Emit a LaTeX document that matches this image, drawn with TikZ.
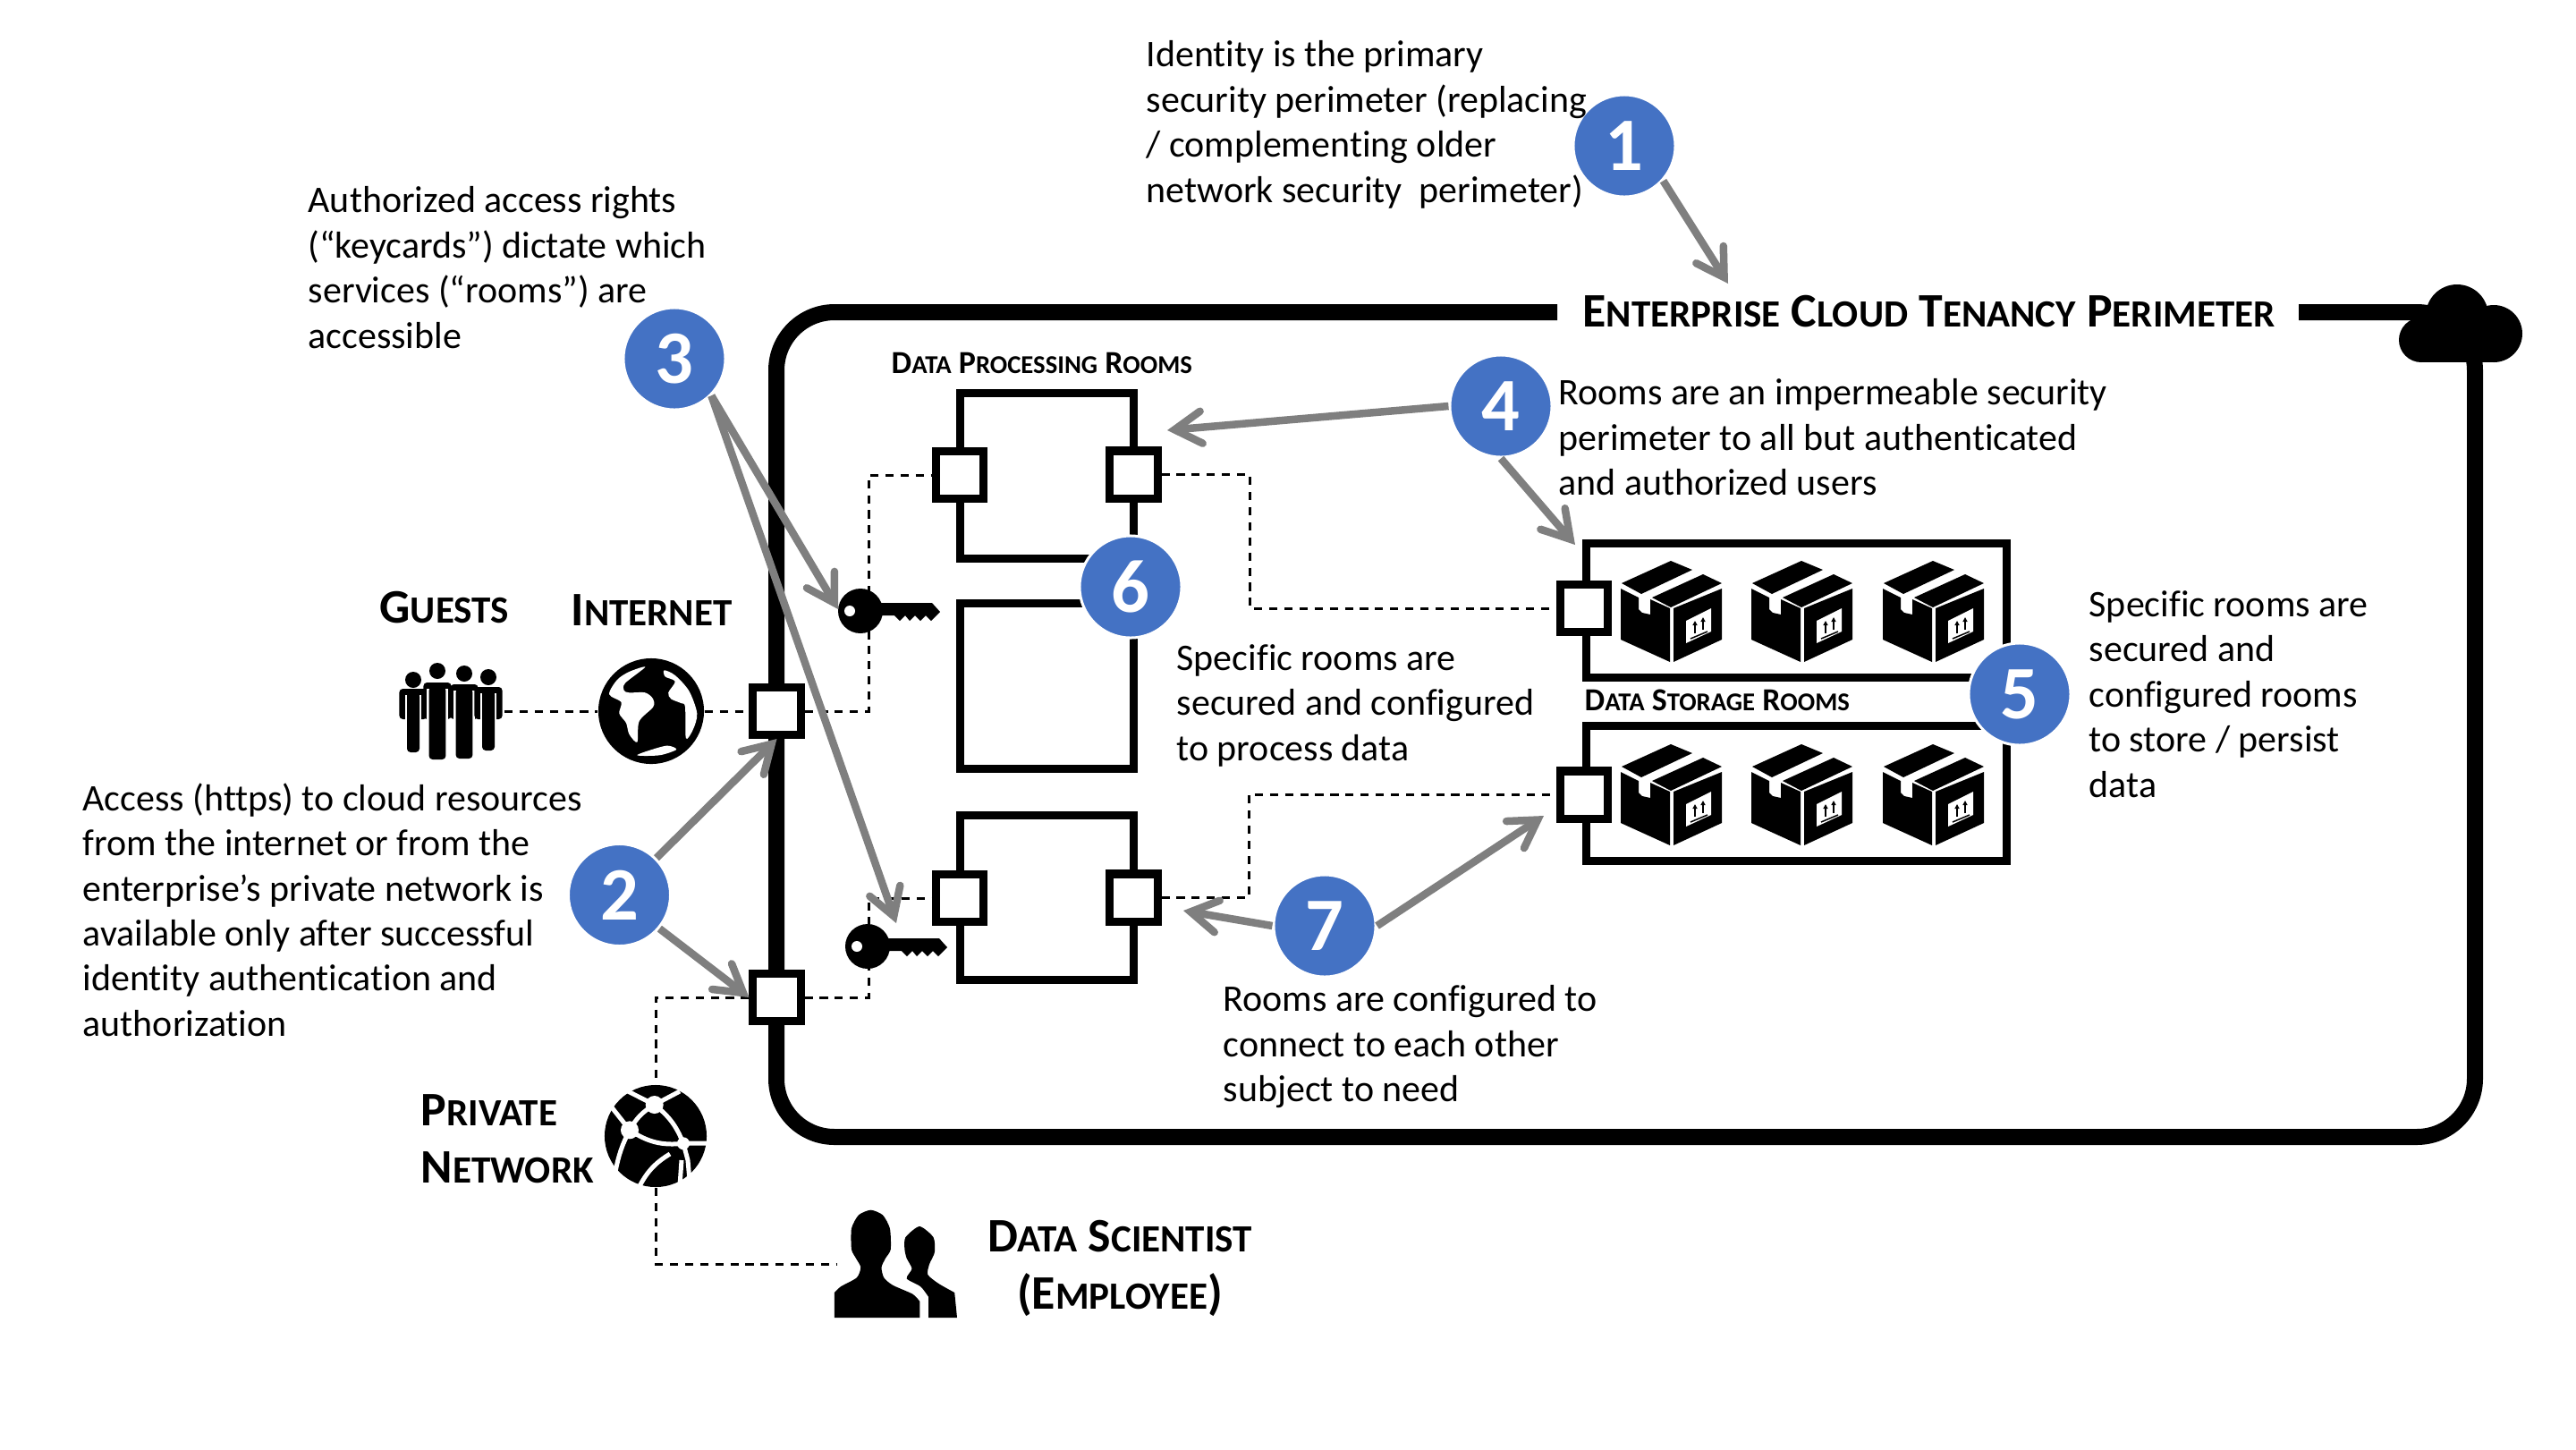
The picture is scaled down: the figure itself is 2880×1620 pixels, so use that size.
\documentclass[tikz,border=0pt]{standalone}
\usepackage{fontspec}
\setmainfont[Ligatures=NoCommon]{Carlito}
\usetikzlibrary{arrows.meta}
\definecolor{stepblue}{HTML}{4472C4}
\definecolor{arrowgray}{HTML}{7F7F7F}
\newcommand{\smc}[2]{#1\scalebox{0.8}{#2}}
\newcommand{\bodysize}{\fontsize{11.93}{14.33}\selectfont}
\newcommand{\headsize}{\fontsize{15.3}{18.2}\selectfont\bfseries}
\newcommand{\roomsize}{\fontsize{10.2}{12}\selectfont\bfseries}
\tikzset{
  keyicon/.pic={
    \fill (0,0) circle (25);
    \fill (20,-9) -- (80,-9) -- (89,1) -- (79,11) -- (73,5) -- (67,11) -- (61,5) -- (55,11) -- (50,5) -- (44,11) -- (38,5) -- (20,5) -- cycle;
    \fill[white] (-12,0) circle (6);
  },
  parcelicon/.pic={
    \fill (1,25) -- (56,0) -- (80,10) -- (23,37) -- cycle;
    \fill (35,41) -- (92,15) -- (113,25) -- (56,52) -- cycle;
    \fill (0,31) -- (20,41) -- (20,54) -- (24,58) -- (33,60) -- (33,43) -- (55,53) -- (55,113) -- (0,88) -- cycle;
    \fill (59,53) -- (113,31) -- (113,88) -- (59,113) -- cycle;
    \fill[white] (73,67) -- (101,53) -- (101,79) -- (73,92) -- cycle;
    \draw[line width=0.015cm] (78,87) -- (97,79);
    \draw[line width=0.015cm,-{Triangle[length=0.05cm,width=0.05cm]}] (83,81) -- (83,67);
    \draw[line width=0.015cm,-{Triangle[length=0.05cm,width=0.05cm]}] (92,77) -- (92,63);
  },
}
\begin{document}
\begin{tikzpicture}[x=0.01cm, y=-0.01cm,
  perim/.style={line width=0.18cm},
  door/.style={draw, fill=white, line width=0.09cm, minimum size=0.53cm, inner sep=0pt},
  room/.style={draw, line width=0.09cm, minimum width=1.935cm, inner sep=0pt},
  store/.style={draw, line width=0.09cm, minimum width=4.69cm, inner sep=0pt},
  wire/.style={dash pattern=on 2.6pt off 2.2pt, line width=0.03cm},
  callout/.style={draw=arrowgray, line width=0.085cm, -{Straight Barb[length=0.3cm, width=0.36cm, line cap=round, line join=miter]}},
  num/.style={circle, fill=stepblue, draw=white, line width=0.03cm, minimum size=1.14cm, inner sep=0pt, text=white, font=\fontsize{24}{24}\selectfont\bfseries},
  note/.style={anchor=north west, inner sep=0pt, align=left, font=\bodysize},
  head/.style={inner sep=0pt, font=\headsize},
  roomlabel/.style={anchor=base west, inner sep=0pt, font=\roomsize},
  globe/.style={circle, fill=black, inner sep=0pt}]
\useasboundingbox (0,0) rectangle (2880,1620);

\coordinate (perimA) at (1741,349);
\coordinate (perimB) at (2570,349);
\draw[perim, rounded corners=0.65cm] (perimA) -- (868,349) -- (868,1271) -- (2767,1271) -- (2767,349) -- (perimB);

% cloud
\fill (2707,380) circle (25);
\fill (2788,373) circle (32);
\fill (2747,353) circle (35);
\fill (2707,370) rectangle (2788,405);

\node[room, minimum height=1.84cm] (roomA) at (1170.5,532) {};
\node[room, minimum height=1.855cm] (roomB) at (1170.5,767) {};
\node[room, minimum height=1.84cm] (roomC) at (1170.5,1003.5) {};
\node[store, minimum height=1.49cm] (storeA) at (2008.5,682.5) {};
\node[store, minimum height=1.50cm] (storeB) at (2008.5,887) {};

\node[door] (doorA) at (868.5,795) {};
\node[door] (doorB) at (868.5,1115) {};
\node[door] (roomAin) at (1073,531) {};
\node[door] (roomAout) at (1267.5,530.5) {};
\node[door] (roomCin) at (1073,1004) {};
\node[door] (roomCout) at (1267.5,1003.5) {};
\node[door] (storeAin) at (1771,680) {};
\node[door] (storeBin) at (1771,888.5) {};

\node[globe, minimum size=1.18cm] (inet) at (728,795) {};
\node[globe, minimum size=1.14cm] (pnet) at (733,1270) {};
\coordinate (guests) at (564,795);
\coordinate (scientist) at (935,1413);

\draw[wire] (guests) -- (inet);
\draw[wire] (inet) -- (doorA);
\draw[wire] (doorA) -- (971,795) -- (971,531) -- (roomAin);
\draw[wire] (doorB) -- (971,1115) -- (971,1004) -- (roomCin);
\draw[wire] (doorB) -- (733,1115) -- (pnet);
\draw[wire] (pnet) -- (733,1413) -- (scientist);
\draw[wire] (roomAout) -- (1397,530.5) -- (1397,680) -- (storeAin);
\draw[wire] (roomCout) -- (1396,1003.5) -- (1396,888.5) -- (storeBin);

\pic at (962,683) {keyicon};
\pic at (970,1058) {keyicon};

\foreach \px in {1812,1958,2105} {
  \foreach \py in {627,832} {
    \pic at (\px,\py) {parcelicon};
  }
}

% internet globe
\begin{scope}[shift={(728,795)}]
  \fill[white] plot[smooth cycle, tension=0.5] coordinates {(-6.7,-49.3) (-29,-31.4) (-30.4,-23.2) (-24.6,-20.7) (-6.7,-20.7) (2.2,-13.6) (2.2,-4.6) (-13.4,11.4) (-15.6,34.6) (-24.6,25.7) (-28,13.2) (-35.7,2.5) (-33.5,-10) (-46.9,-18.9) (-38,-35) (-24.6,-44)};
  \fill[white] plot[smooth cycle, tension=0.5] coordinates {(14.7,-45.7) (26.8,-40) (42.4,-22.5) (51.3,2.5) (46.9,20.4) (38.9,30.4) (38,-4.6) (33.5,-8.9) (22.3,-13.6) (19.2,-20.7) (26.8,-33.2) (15.6,-38.6)};
  \fill[white] plot[smooth cycle, tension=0.5] coordinates {(-15.6,49) (-2.2,43.9) (17.9,38.6) (28.2,42.9) (11.2,49) (-6.7,50)};
\end{scope}

% private network globe
\begin{scope}[shift={(733,1270)}, white, line width=0.05cm]
  \draw (-31,-50) -- (-1.3,-35) -- (27,-50);
  \draw (-1.3,-35) to[bend right=15] (-29,-6.7);
  \draw (-1.3,-35) to[bend left=15] (31,8.3);
  \draw (-29,-6.7) to[bend right=20] (31,8.3);
  \draw (-29,-6.7) -- (-49,-32);
  \draw (-29,-6.7) to[bend right=8] (-45,40);
  \draw (31,8.3) -- (57,8);
  \draw (31,8.3) -- (36,27) -- (38,50);
  \draw (16,20) to[bend right=15] (-18,56);
  \draw (29,27) -- (27,56);
  \fill (-1.3,-35) circle (10);
  \fill (-29,-6.7) circle (10);
  \fill (31,8.3) circle (7);
\end{scope}

% guests
\foreach \cx/\hy/\tp/\bt/\lg in {462/760/770/841/7, 489/750/763/849/9.4, 519/753/765/848/9.4, 546/757/768/839/7} {
  \fill (\cx,\hy) circle (9);
  \fill[rounded corners=0.04cm] (\cx-15.6,\tp) rectangle (\cx+15.6,804);
  \fill[white] (\cx-\lg-2.2,\tp+7) rectangle (\cx-\lg,806);
  \fill[white] (\cx+\lg,\tp+7) rectangle (\cx+\lg+2.2,806);
  \fill[rounded corners=0.04cm] (\cx-\lg,\tp+5) rectangle (\cx+\lg,\bt);
}

% data scientist
\fill plot[smooth, tension=0.4] coordinates {(932.9,1445) (940,1438.3) (957.9,1428.3) (962.3,1416.7) (957,1406.7) (952,1396.7) (952,1373.3) (960,1358.3) (973.5,1352.7) (986.9,1358.3) (994.9,1373.3) (995.8,1396.7) (990,1406.7) (985.5,1416.7) (988.2,1428.3) (998,1436.7) (1020.4,1446.7) (1028.4,1455)} -- (1028.4,1473) -- (932.9,1473) -- cycle;
\fill plot[smooth, tension=0.4] coordinates {(1038.2,1450) (1029.3,1438.3) (1013.7,1429.3) (1019.5,1418.3) (1013.7,1406.7) (1011.4,1396.7) (1012.3,1383.3) (1028,1371) (1043.6,1383.3) (1044.9,1400) (1039,1413.3) (1037.3,1425) (1049.4,1435) (1067.2,1445)} -- (1070,1473) -- (1038.2,1473) -- cycle;

\node[num] (stepA) at (1816,163) {1};
\node[num] (stepB) at (692.5,1000.5) {2};
\node[num] (stepC) at (754,401) {3};
\node[num] (stepD) at (1678,454) {4};
\node[num] (stepE) at (2258,776) {5};
\node[num] (stepF) at (1264,656) {6};
\node[num] (stepG) at (1481,1035) {7};

\coordinate (titletip) at (1932,317);
\coordinate (keyAtip) at (937,681);
\coordinate (keyBtip) at (1002,1032);
\coordinate (roomtip) at (1305,481);
\coordinate (storetip) at (1761,609);
\coordinate (roomCtip) at (1323,1018);
\coordinate (storeBtip) at (1726,912);

\draw[callout] (stepA.-42) -- (titletip);
\draw[callout] (stepB.45) -- (doorA.south);
\draw[callout] (stepB.-40) -- (doorB.west);
\draw[callout] (stepC.-45) -- (keyAtip);
\draw[callout] (stepC.-45) -- (keyBtip);
\draw[callout] (stepD.west) -- (roomtip);
\draw[callout] (stepD.south) -- (storetip);
\draw[callout] (stepG.west) -- (roomCtip);
\draw[callout] (stepG.east) -- (storeBtip);

\node[note] (noteA) at (1281,45) {Identity is the primary\\security perimeter (replacing\\/ complementing older\\network security\ \ perimeter)};
\node[note] (noteB) at (92,875) {Access (https) to cloud resources\\from the internet or from the\\enterprise’s private network is\\available only after successful\\identity authentication and\\authorization};
\node[note] (noteC) at (344,208) {Authorized access rights\\(“keycards”) dictate which\\services (“rooms”) are\\accessible};
\node[note] (noteD) at (1742,423) {Rooms are an impermeable security\\perimeter to all but authenticated\\and authorized users};
\node[note] (noteE) at (2335,660) {Specific rooms are\\secured and\\configured rooms\\to store / persist\\data};
\node[note] (noteF) at (1315,720) {Specific rooms are\\secured and configured\\to process data};
\node[note] (noteG) at (1367,1101) {Rooms are configured to\\connect to each other\\subject to need};

\node[head, anchor=base west] (title) at (1769,365) {\smc{E}{NTERPRISE} \smc{C}{LOUD} \smc{T}{ENANCY} \smc{P}{ERIMETER}};
\node[head, anchor=base west] (guestlabel) at (424,696) {\smc{G}{UESTS}};
\node[head, anchor=base west] (inetlabel) at (638,699) {\smc{I}{NTERNET}};
\node[head, anchor=north west, align=left] (pnetlabel) at (470,1223) {\smc{P}{RIVATE}\\\smc{N}{ETWORK}};
\node[head, anchor=north, align=center] (scilabel) at (1252,1363) {\smc{D}{ATA} \smc{S}{CIENTIST}\\(\smc{E}{MPLOYEE})};
\node[roomlabel] (proclabel) at (996,417) {\smc{D}{ATA} \smc{P}{ROCESSING} \smc{R}{OOMS}};
\node[roomlabel] (storelabel) at (1771,794) {\smc{D}{ATA} \smc{S}{TORAGE} \smc{R}{OOMS}};
\end{tikzpicture}
\end{document}
